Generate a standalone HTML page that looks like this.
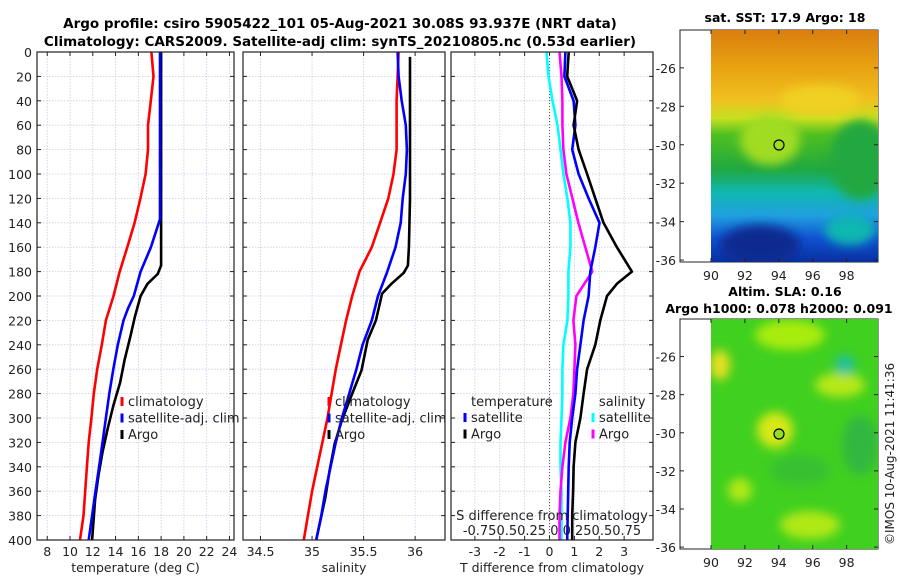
<!DOCTYPE html>
<html><head><meta charset="utf-8"><style>
body{margin:0;background:#fff;width:900px;height:580px;overflow:hidden}
svg{font-family:"DejaVu Sans","Liberation Sans",sans-serif;}
</style></head><body>
<svg id="chart" width="900" height="580" viewBox="0 0 900 580" xmlns="http://www.w3.org/2000/svg">
<defs>
<filter id="bl" x="-20%" y="-20%" width="140%" height="140%"><feGaussianBlur stdDeviation="5"/></filter>
<clipPath id="c1"><rect x="711" y="30" width="167" height="232"/></clipPath>
<clipPath id="c2"><rect x="711" y="319" width="167" height="230"/></clipPath>
<linearGradient id="sst" x1="0" y1="0" x2="0" y2="1">
<stop offset="0" stop-color="#d97d10"/><stop offset="0.15" stop-color="#e8a010"/><stop offset="0.3" stop-color="#f0c020"/>
<stop offset="0.38" stop-color="#c8e020"/><stop offset="0.45" stop-color="#50c020"/><stop offset="0.6" stop-color="#20a840"/>
<stop offset="0.7" stop-color="#10b8b0"/><stop offset="0.8" stop-color="#20a0e0"/><stop offset="0.9" stop-color="#1050d0"/><stop offset="1" stop-color="#0830a0"/>
</linearGradient>
</defs>
<g id="titles">
<text x="340" y="28" text-anchor="middle" font-size="13.5" font-weight="bold">Argo profile: csiro 5905422_101 05-Aug-2021 30.08S 93.937E (NRT data)</text>
<text x="340" y="46" text-anchor="middle" font-size="13.5" font-weight="bold">Climatology: CARS2009. Satellite-adj clim: synTS_20210805.nc (0.53d earlier)</text>
</g>
<g id="maps">
<g>
<rect x="680" y="30" width="198" height="232" fill="#fff" stroke="#222"/>
<g clip-path="url(#c1)">
<rect x="711" y="30" width="167" height="232" fill="url(#sst)"/>
<g filter="url(#bl)">
<ellipse cx="770" cy="140" rx="30" ry="25" fill="#a0dc20"/>
<ellipse cx="860" cy="160" rx="30" ry="40" fill="#20a840"/>
<ellipse cx="760" cy="245" rx="40" ry="20" fill="#0a2a90"/>
<ellipse cx="850" cy="230" rx="25" ry="15" fill="#10b8b0"/>
<ellipse cx="820" cy="100" rx="40" ry="15" fill="#f0d020"/>
</g>
</g>
<circle cx="779" cy="145" r="5" fill="none" stroke="#000" stroke-width="1.2"/>
<text x="785" y="22" text-anchor="middle" font-size="12.5" font-weight="bold">sat. SST: 17.9 Argo: 18</text>
</g>
<g>
<rect x="680" y="319" width="198" height="230" fill="#fff" stroke="#222"/>
<g clip-path="url(#c2)">
<rect x="711" y="319" width="167" height="230" fill="#40d020"/>
<g filter="url(#bl)">
<ellipse cx="790" cy="335" rx="35" ry="15" fill="#a8ec10"/>
<ellipse cx="720" cy="365" rx="10" ry="15" fill="#e8e020"/>
<ellipse cx="775" cy="430" rx="18" ry="18" fill="#d8e818"/>
<ellipse cx="840" cy="385" rx="25" ry="12" fill="#b8e818"/>
<ellipse cx="845" cy="365" rx="10" ry="10" fill="#20c0a0"/>
<ellipse cx="810" cy="525" rx="30" ry="14" fill="#b0e818"/>
<ellipse cx="740" cy="490" rx="12" ry="12" fill="#b0e818"/>
<ellipse cx="860" cy="445" rx="18" ry="30" fill="#30b840"/>
<ellipse cx="800" cy="470" rx="30" ry="15" fill="#38c030"/>
</g>
</g>
<circle cx="779" cy="434" r="5" fill="#90e020" stroke="#000" stroke-width="1.2"/>
<text x="785" y="296" text-anchor="middle" font-size="12.5" font-weight="bold">Altim. SLA: 0.16</text>
<text x="779" y="313" text-anchor="middle" font-size="12.5" font-weight="bold">Argo h1000: 0.078 h2000: 0.091</text>
</g>
<text transform="translate(894,545) rotate(-90)" font-size="12" fill="#222">©IMOS 10-Aug-2021 11:41:36</text>
</g>
<g id="panels"></g>
</svg>
<script>
const depths=[0,20,40,60,80,100,120,140,160,180,200,220,240,260,280,300,320,340,360,380,400];
const tempClim=[17.15,17.33,17.09,16.85,16.85,16.64,16.18,15.67,15.03,14.36,13.82,13.15,12.79,12.39,12.09,11.88,11.64,11.48,11.33,11.18,10.88];
const tempSatDepths=[0,40,80,120,137,160,180,200,210,220,240,260,280,300,320,340,360,380,400];
const tempSat=[17.9,17.9,17.9,17.9,17.9,17.1,16.2,15.6,15.1,14.7,14.2,13.8,13.45,13.15,12.85,12.55,12.24,11.94,11.64];
const tempArgoDepths=[0,40,80,120,160,175,182,190,200,217,233,252,271,290,309,328,347,367,400];
const tempArgo=[18.0,18.0,18.0,18.0,18.0,18.0,17.7,16.8,16.2,15.7,15.3,14.8,14.4,13.8,13.3,12.85,12.5,12.2,11.94];
const salClim=[35.84,35.83,35.82,35.82,35.82,35.79,35.74,35.66,35.58,35.46,35.39,35.33,35.28,35.23,35.19,35.15,35.10,35.05,35.00,34.96,34.92];
const salSat=[35.83,35.84,35.87,35.91,35.92,35.91,35.88,35.86,35.81,35.73,35.64,35.58,35.49,35.43,35.36,35.29,35.23,35.18,35.13,35.09,35.04];
const salArgoDepths=[4,40,80,120,160,175,181,190,198,209,220,236,261,280,302,321,343,365,400];
const salArgo=[35.95,35.95,35.95,35.95,35.94,35.93,35.89,35.77,35.68,35.65,35.62,35.54,35.48,35.39,35.29,35.22,35.17,35.13,35.04];
const dTSat=[0.64,0.60,0.97,1.04,0.91,1.17,1.57,2.01,1.84,1.64,1.57,1.37,1.24,1.11,1.04,0.91,0.81,0.77,0.75,0.73,0.71];
const dTArgoDepths=[0,20,40,60,80,100,120,140,160,180,190,200,220,240,260,280,300,320,340,360,380,400];
const dTArgo=[0.77,0.71,1.11,0.97,1.17,1.51,1.84,2.17,2.71,3.31,2.71,2.31,2.04,1.84,1.51,1.37,1.24,1.04,0.97,0.95,0.91,0.91];
const dSSat=[-0.03,-0.01,0.03,0.08,0.11,0.14,0.18,0.21,0.21,0.19,0.19,0.18,0.14,0.13,0.13,0.12,0.11,0.11,0.12,0.12,0.12];
const dSArgo=[0.10,0.12,0.13,0.13,0.14,0.17,0.23,0.29,0.36,0.43,0.27,0.24,0.26,0.25,0.24,0.21,0.16,0.13,0.11,0.10,0.10];
const yTicks=[0,20,40,60,80,100,120,140,160,180,200,220,240,260,280,300,320,340,360,380,400];
const tTicks=[8,10,12,14,16,18,20,22,24];
const sTicks=[34.5,35,35.5,36];
const dTicks=[-3,-2,-1,0,1,2,3];

const NS='http://www.w3.org/2000/svg';
const root=document.getElementById('panels');
const Y0=52,Y1=540;
const y=d=>Y0+(d-0)/400*(Y1-Y0);
function mk(tag,at,parent){const e=document.createElementNS(NS,tag);for(const k in at)e.setAttribute(k,at[k]);(parent||root).appendChild(e);return e;}
function panel(name,x0,x1,lo,hi,ticks,title,showY){
  const g=mk('g',{});
  
  
  const sx=v=>x0+(v-lo)/(hi-lo)*(x1-x0);
  mk('rect',{x:x0,y:Y0,width:x1-x0,height:Y1-Y0,fill:'#fff'},g);
  yTicks.forEach(d=>{mk('line',{x1:x0,x2:x1,y1:y(d),y2:y(d),stroke:'#c8cce8','stroke-dasharray':'1.5,1.5','stroke-width':0.8},g);
    mk('line',{x1:x0,x2:x0+4,y1:y(d),y2:y(d),stroke:'#222'},g);mk('line',{x1:x1-4,x2:x1,y1:y(d),y2:y(d),stroke:'#222'},g);
    if(showY){const t=mk('text',{x:x0-5,y:y(d)+5,'text-anchor':'end','font-size':12.5,fill:'#222'},g);t.textContent=d;}});
  ticks.forEach(v=>{mk('line',{x1:sx(v),x2:sx(v),y1:Y0,y2:Y1,stroke:'#c8cce8','stroke-dasharray':'1.5,1.5','stroke-width':0.8},g);
    mk('line',{x1:sx(v),x2:sx(v),y1:Y1-4,y2:Y1,stroke:'#222'},g);mk('line',{x1:sx(v),x2:sx(v),y1:Y0,y2:Y0+4,stroke:'#222'},g);
    const t=mk('text',{x:sx(v),y:556,'text-anchor':'middle','font-size':12.5,fill:'#222'},g);t.textContent=v;});
  const tt=mk('text',{x:(x0+x1)/2,y:572,'text-anchor':'middle','font-size':12.5,fill:'#222'},g);tt.textContent=title;
  return {g,sx};
}
function line(p,sx,vals,ds,color,name){
  const pts=vals.map((v,i)=>sx(v).toFixed(1)+','+y(ds[i]).toFixed(1)).join(' ');
  const e=mk('polyline',{points:pts,fill:'none',stroke:color,'stroke-width':2.6,'stroke-linejoin':'round'},p.g);
  
  
}
function frame(p,x0,x1){mk('rect',{x:x0,y:Y0,width:x1-x0,height:Y1-Y0,fill:'none',stroke:'#222','stroke-width':1.2},p.g);}
function legend(p,x,items,head){
  let yy=401;
  if(head){const t=mk('text',{x:x+6,y:yy+5,'font-size':13,fill:'#222'},p.g);t.textContent=head;yy+=16;}
  items.forEach(([c,l])=>{mk('line',{x1:x,x2:x,y1:yy-4,y2:yy+5,stroke:c,'stroke-width':3},p.g);
    const t=mk('text',{x:x+6,y:yy+5,'font-size':13,fill:'#222'},p.g);t.textContent=l;yy+=16.5;});
}
const p1=panel('temperature-panel',37,234,7.1,24.4,tTicks,'temperature (deg C)',true);
line(p1,p1.sx,tempClim,depths,'#ff0000','temp-climatology-line');
line(p1,p1.sx,tempArgo,tempArgoDepths,'#000000','temp-argo-line');
line(p1,p1.sx,tempSat,tempSatDepths,'#0000ff','temp-satellite-line');
frame(p1,37,234);
legend(p1,122,[['#ff0000','climatology'],['#0000ff','satellite-adj. clim'],['#000','Argo']]);
const p2=panel('salinity-panel',243,445,34.33,36.29,sTicks,'salinity',false);
line(p2,p2.sx,salClim,depths,'#ff0000','sal-climatology-line');
line(p2,p2.sx,salArgo,salArgoDepths,'#000000','sal-argo-line');
line(p2,p2.sx,salSat,depths,'#0000ff','sal-satellite-line');
frame(p2,243,445);
legend(p2,329,[['#ff0000','climatology'],['#0000ff','satellite-adj. clim'],['#000','Argo']]);
const p3=panel('difference-panel',451,653,-3.96,4.16,dTicks,'T difference from climatology',false);
const ssx=v=>p3.sx(v*4);
mk('line',{x1:p3.sx(0),x2:p3.sx(0),y1:Y0,y2:Y1,stroke:'#555','stroke-dasharray':'1,2','stroke-width':1},p3.g);
line(p3,ssx,dSSat,depths,'#00ffff','sal-diff-satellite-line');
line(p3,ssx,dSArgo,depths,'#ff00ff','sal-diff-argo-line');
line(p3,p3.sx,dTSat,depths,'#0000ff','temp-diff-satellite-line');
line(p3,p3.sx,dTArgo,dTArgoDepths,'#000000','temp-diff-argo-line');
frame(p3,451,653);
legend(p3,465,[['#0000ff','satellite'],['#000','Argo']],'temperature');
legend(p3,593,[['#00ffff','satellite'],['#ff00ff','Argo']],'salinity');
const s1=mk('text',{x:552,y:520,'text-anchor':'middle','font-size':13,fill:'#222'},p3.g);s1.textContent='S difference from climatology';
const s2=mk('text',{x:552,y:535,'text-anchor':'middle','font-size':13,fill:'#222'},p3.g);s2.textContent='-0.750.50.25 0 0.250.50.75';
const mapLat=[-26,-28,-30,-32,-34,-36];
const mapLon=[90,92,94,96,98];
const mg=document.getElementById('maps');
[[30,262],[319,549]].forEach(([t,b],mi)=>{
  const ly=lat=>t+(-24.03-lat)/(-24.03+36.1)*(b-t);
  const lx=lon=>711+(lon-90)/(99.85-90)*167;
  mapLat.forEach(l=>{mk('line',{x1:680,x2:684,y1:ly(l),y2:ly(l),stroke:'#222'},mg);mk('line',{x1:874,x2:878,y1:ly(l),y2:ly(l),stroke:'#222'},mg);
    const tx=mk('text',{x:676,y:ly(l)+5,'text-anchor':'end','font-size':12.5,fill:'#222'},mg);tx.textContent=l;});
  mapLon.forEach(l=>{mk('line',{x1:lx(l),x2:lx(l),y1:b-4,y2:b,stroke:'#222'},mg);mk('line',{x1:lx(l),x2:lx(l),y1:t,y2:t+4,stroke:'#222'},mg);
    const tx=mk('text',{x:lx(l),y:b+18,'text-anchor':'middle','font-size':12.5,fill:'#222'},mg);tx.textContent=l;});
});
</script>
</body></html>
